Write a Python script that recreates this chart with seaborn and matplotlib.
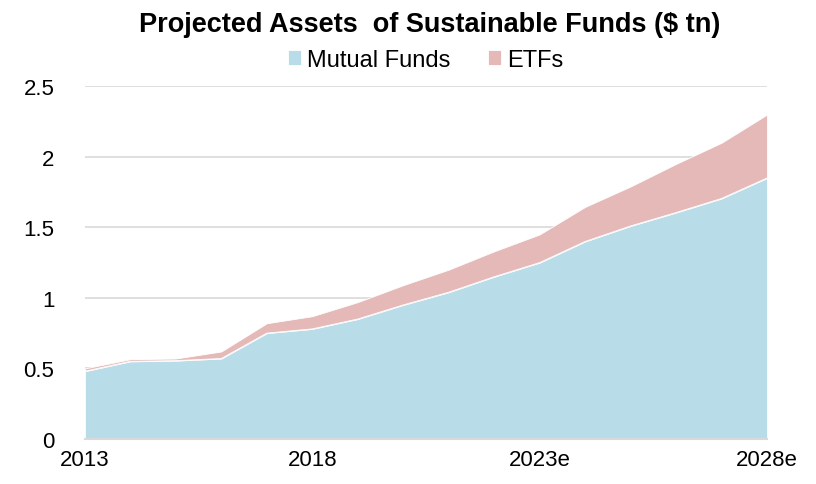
import pandas as pd
import seaborn as sns
import matplotlib.pyplot as plt

# 年ごとのデータ
years = list(range(2013, 2029))
year_labels = ["2013", "2018", "2023e", "2028e"]
mutual_funds = [0.48, 0.55, 0.555, 0.57, 0.75, 0.78, 0.85, 0.95, 1.04, 1.15,
                1.25, 1.40, 1.51, 1.605, 1.705, 1.85]
etfs = [0.02, 0.015, 0.015, 0.05, 0.07, 0.09, 0.12, 0.14, 0.16, 0.18,
        0.20, 0.245, 0.28, 0.345, 0.395, 0.45]

df = pd.DataFrame({"year": years, "Mutual Funds": mutual_funds, "ETFs": etfs})

sns.set_style("white")
plt.rcParams["font.family"] = ["Liberation Sans", "DejaVu Sans"]
plt.rcParams["text.color"] = "black"
plt.rcParams["xtick.labelcolor"] = "black"
plt.rcParams["ytick.labelcolor"] = "black"

colors = ["#B8DDE8", "#E6B9B9"]

fig, ax = plt.subplots(figsize=(8.16, 4.85), dpi=100)
fig.subplots_adjust(left=0.104, right=0.94, top=0.82, bottom=0.093)

ax.stackplot(df["year"], df["Mutual Funds"], df["ETFs"],
             colors=colors, labels=["Mutual Funds", "ETFs"],
             edgecolor="white", linewidth=0.6, zorder=2)
# 境界線（seaborn）
sns.lineplot(data=df, x="year", y="Mutual Funds", ax=ax, color="white",
             linewidth=0.6, zorder=3, legend=False)

ax.set_xlim(2013, 2028)
ax.set_ylim(0, 2.5)
ax.set_yticks([0, 0.5, 1, 1.5, 2, 2.5])
ax.set_yticklabels(["0", "0.5", "1", "1.5", "2", "2.5"])
ax.set_xticks(years, minor=True)
ax.set_xticks([2013, 2018, 2023, 2028])
ax.set_xticklabels(year_labels)
ax.yaxis.grid(True, color="#D9D9D9", linewidth=1.2, zorder=0)
ax.set_axisbelow(True)

for s in ["left", "right", "top"]:
    ax.spines[s].set_visible(False)
ax.spines["bottom"].set_color("#D9D9D9")
ax.spines["bottom"].set_linewidth(1.5)
ax.spines["bottom"].set_zorder(4)

ax.tick_params(axis="x", which="both", direction="out", length=6, width=1.5,
               color="#D9D9D9", labelsize=16, pad=1)
ax.tick_params(axis="y", length=0, labelsize=16, pad=22)
ax.set_xlabel("")
ax.set_ylabel("")

fig.suptitle("Projected Assets  of Sustainable Funds ($ tn)", fontsize=19.5,
             fontweight="bold", x=0.527, y=0.975)
ax.legend(loc="lower center", bbox_to_anchor=(0.5, 1.0), ncol=2, frameon=False,
          fontsize=17, handlelength=0.55, handleheight=0.55, handletextpad=0.25,
          columnspacing=1.6, borderaxespad=0.25)

plt.savefig("out.png", dpi=100)
plt.close()
